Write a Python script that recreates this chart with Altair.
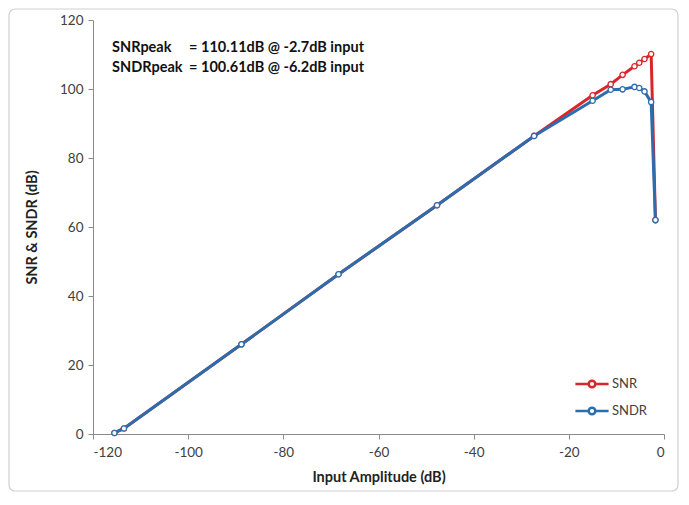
import altair as alt
import pandas as pd

# Input amplitude (dB) of each measurement
amp = [-115.5, -113.5, -88.8, -68.4, -47.7, -27.3, -15.0, -11.2, -8.7, -6.2, -5.2, -4.1, -2.7, -1.8]
# SNR (dB)
snr = [0.3, 1.6, 26.0, 46.3, 66.3, 86.4, 98.2, 101.4, 104.1, 106.6, 107.6, 108.7, 110.11, 62.0]
# SNDR (dB)
sndr = [0.3, 1.6, 26.0, 46.3, 66.3, 86.4, 96.6, 99.8, 99.9, 100.61, 100.3, 99.3, 96.2, 62.0]

series_names = ["SNR", "SNDR"]
series_colors = ["#D9262B", "#2C6DAE"]

# annotation text
note_left = ["SNRpeak", "SNDRpeak"]
note_right = ["= 110.11dB @ -2.7dB input", "= 100.61dB @ -6.2dB input"]
note_x_left = [-116.0, -116.0]
note_x_right = [-99.8, -99.8]
note_y = [112.0, 106.2]

rows = []
for a, s, d in zip(amp, snr, sndr):
    rows.append({"amp": a, "val": s, "series": "SNR"})
    rows.append({"amp": a, "val": d, "series": "SNDR"})
df = pd.DataFrame(rows)

notes = pd.DataFrame({"l": note_left, "r": note_right, "xl": note_x_left,
                      "xr": note_x_right, "y": note_y})

FONT = "Lato"

xscale = alt.Scale(domain=[-120, 0], nice=False, zero=False)
yscale = alt.Scale(domain=[0, 120], nice=False)

color = alt.Color(
    "series:N",
    scale=alt.Scale(domain=series_names, range=series_colors),
    sort=series_names,
    legend=alt.Legend(
        title=None,
        orient="none",
        legendX=481,
        legendY=346,
        symbolType="M-1,0L-0.2,0M0.2,0L1,0M0.2,0A0.2,0.2 0 1,1 -0.2,0A0.2,0.2 0 1,1 0.2,0Z",
        symbolSize=1100,
        symbolStrokeWidth=2.5,
        symbolFillColor="white",
        labelFont=FONT,
        labelFontSize=13,
        labelColor="#404040",
        rowPadding=-4,
        labelOffset=2,
    ),
)

x = alt.X("amp:Q", scale=xscale,
          axis=alt.Axis(title="Input Amplitude (dB)", values=[-120, -100, -80, -60, -40, -20, 0],
                        labelExpr="'' + datum.value",
                        grid=False, titlePadding=12, labelPadding=6))
y = alt.Y("val:Q", scale=yscale,
          axis=alt.Axis(title="SNR & SNDR (dB)", values=[0, 20, 40, 60, 80, 100, 120],
                        grid=False, titlePadding=20))

base = alt.Chart(df)
lines = base.mark_line(strokeWidth=3).encode(x=x, y=y, color=color, order="amp:Q")
points = base.mark_point(shape="circle", filled=True, fill="white", size=28,
                         strokeWidth=1.3, opacity=1).encode(
    x="amp:Q", y="val:Q",
    stroke=alt.Stroke("series:N", scale=alt.Scale(domain=series_names, range=series_colors), legend=None),
)

tl = alt.Chart(notes).mark_text(align="left", baseline="middle", font=FONT, fontSize=14.5,
                                fontWeight="bold", color="#111111").encode(
    x="xl:Q", y="y:Q", text="l:N")
tr = alt.Chart(notes).mark_text(align="left", baseline="middle", font=FONT, fontSize=14.5,
                                fontWeight="bold", color="#111111").encode(
    x="xr:Q", y="y:Q", text="r:N")

frame = alt.Chart(pd.DataFrame({"k": [0]})).mark_rect(
    fill=None, stroke="#CFCFCF", strokeWidth=1.2, cornerRadius=6, clip=False).encode(
    x=alt.value(-84), x2=alt.value(585), y=alt.value(-11), y2=alt.value(471))

chart = alt.layer(frame, lines, points, tl, tr).resolve_scale(stroke="independent").properties(
    width=571, height=414,
    autosize=alt.AutoSizeParams(type="none"),
    padding={"left": 85, "top": 12, "right": 15, "bottom": 58},
).configure_view(stroke=None).configure_axis(
    domainColor="#8A8A8A", tickColor="#8A8A8A", tickSize=5,
    labelFont=FONT, labelFontSize=13.5, labelColor="#404040",
    titleFont=FONT, titleFontSize=14.5, titleFontWeight="bold", titleColor="#222222",
    labelPadding=5,
)

chart.save("out.html", embed_options={"renderer": "svg", "actions": False})
